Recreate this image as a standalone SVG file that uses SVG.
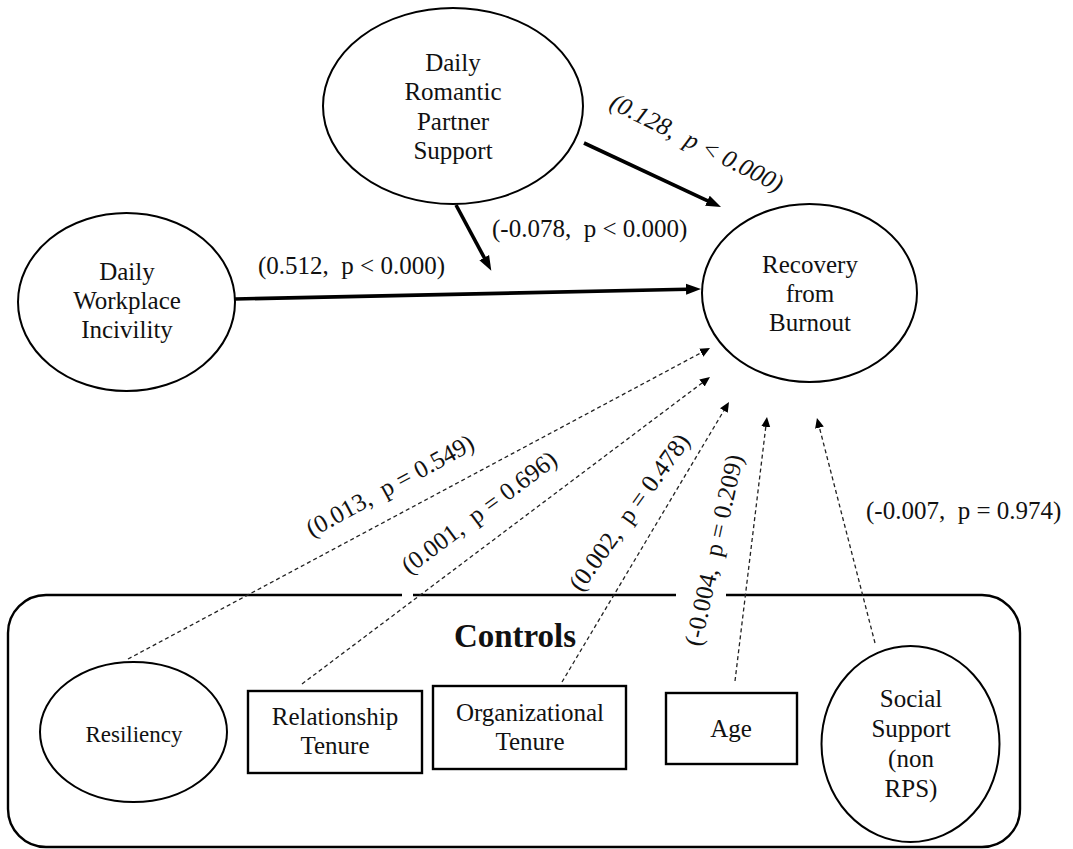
<svg xmlns="http://www.w3.org/2000/svg" width="1073" height="849" viewBox="0 0 1073 849">
  <style>
    .shape { fill: none; stroke: #000; stroke-width: 2; }
    .box { fill: none; stroke: #000; stroke-width: 2.4; }
    .t { font-family: "Liberation Serif", "Times New Roman", serif; font-size: 25px; fill: #111; text-anchor: middle; }
    .lbl { font-family: "Liberation Serif", "Times New Roman", serif; font-size: 25px; fill: #111; white-space: pre; }
    .bold { stroke: #000; stroke-width: 3.6; fill: none; marker-end: url(#headBold); }
    .dash { stroke: #222; stroke-width: 1.3; fill: none; stroke-dasharray: 4 3; marker-end: url(#headDash); }
  </style>
  <defs>
    <marker id="headBold" markerUnits="userSpaceOnUse" markerWidth="16" markerHeight="12" viewBox="0 -6 16 12" refX="1" refY="0" orient="auto">
      <path d="M0,-5.5 L15,0 L0,5.5 z" fill="#000"/>
    </marker>
    <marker id="headDash" markerUnits="userSpaceOnUse" markerWidth="11" markerHeight="10" viewBox="0 -5 11 10" refX="1" refY="0" orient="auto">
      <path d="M0,-4.5 L10,0 L0,4.5 z" fill="#000"/>
    </marker>
  </defs>

  <rect width="1073" height="849" fill="#fff"/>

  <!-- controls frame, with breaks in the top edge -->
  <g id="controls-frame">
    <path class="box" d="M402,595 L46,595 A38,38 0 0 0 8,633 L8,809 A38,38 0 0 0 46,847 L982,847 A38,38 0 0 0 1020,809 L1020,633 A38,38 0 0 0 982,595 L726,595 M676,595 L413,595"/>
    <text class="t" x="515" y="647" style="font-weight:bold;font-size:33px">Controls</text>
  </g>

  <g id="connectors">
    <line class="bold" x1="235" y1="299" x2="687" y2="289.3"/>
    <line class="bold" x1="584" y1="143" x2="708.3" y2="201.1"/>
    <line class="bold" x1="456" y1="205" x2="484.7" y2="258.5"/>
    <line class="dash" x1="128" y1="659" x2="702.1" y2="352.2"/>
    <line class="dash" x1="302" y1="684" x2="702.8" y2="382.4"/>
    <line class="dash" x1="562" y1="682" x2="724.4" y2="409.7"/>
    <line class="dash" x1="735" y1="681" x2="765.9" y2="425.9"/>
    <line class="dash" x1="875" y1="643" x2="819.2" y2="426.7"/>
  </g>

  <g id="labels">
    <text class="lbl" x="258" y="274">(0.512,  p &lt; 0.000)</text>
    <text class="lbl" x="492" y="237">(-0.078,  p &lt; 0.000)</text>
    <text class="lbl" text-anchor="middle" font-style="italic" transform="translate(693,150) rotate(26.6)">(0.128,  p &lt; 0.000)</text>
    <text class="lbl" text-anchor="middle" transform="translate(394,493) rotate(-28.5)">(0.013,  p = 0.549)</text>
    <text class="lbl" text-anchor="middle" transform="translate(484,519) rotate(-36.8)">(0.001,  p = 0.696)</text>
    <text class="lbl" text-anchor="middle" transform="translate(636,517) rotate(-54)">(0.002,  p = 0.478)</text>
    <text class="lbl" text-anchor="middle" transform="translate(722,552) rotate(-77.5)">(-0.004,  p = 0.209)</text>
    <text class="lbl" x="866" y="519">(-0.007,  p = 0.974)</text>
  </g>

  <g id="partner-support">
    <ellipse class="shape" cx="453" cy="106" rx="130" ry="98"/>
    <text class="t" x="453" y="71">Daily</text>
    <text class="t" x="453" y="100">Romantic</text>
    <text class="t" x="453" y="130">Partner</text>
    <text class="t" x="453" y="159">Support</text>
  </g>

  <g id="workplace-incivility">
    <ellipse class="shape" cx="126.5" cy="302" rx="108.5" ry="89"/>
    <text class="t" x="127" y="280">Daily</text>
    <text class="t" x="127" y="309">Workplace</text>
    <text class="t" x="127" y="338">Incivility</text>
  </g>

  <g id="recovery">
    <ellipse class="shape" cx="809.5" cy="293" rx="107.5" ry="89"/>
    <text class="t" x="810" y="273">Recovery</text>
    <text class="t" x="810" y="302">from</text>
    <text class="t" x="810" y="331">Burnout</text>
  </g>

  <g id="resiliency">
    <ellipse class="shape" cx="133.5" cy="732" rx="93.5" ry="70"/>
    <text class="t" x="134" y="742" style="font-size:23px">Resiliency</text>
  </g>

  <g id="relationship-tenure">
    <rect class="box" x="248" y="691" width="174" height="82"/>
    <text class="t" x="335" y="725">Relationship</text>
    <text class="t" x="335" y="754">Tenure</text>
  </g>

  <g id="organizational-tenure">
    <rect class="box" x="433" y="686" width="193" height="83"/>
    <text class="t" x="530" y="721">Organizational</text>
    <text class="t" x="530" y="750">Tenure</text>
  </g>

  <g id="age">
    <rect class="box" x="666" y="693" width="131" height="71"/>
    <text class="t" x="731" y="737">Age</text>
  </g>

  <g id="social-support">
    <ellipse class="shape" cx="910.5" cy="744" rx="89" ry="98"/>
    <text class="t" x="911" y="707">Social</text>
    <text class="t" x="911" y="737">Support</text>
    <text class="t" x="911" y="767">(non</text>
    <text class="t" x="911" y="797">RPS)</text>
  </g>
</svg>
